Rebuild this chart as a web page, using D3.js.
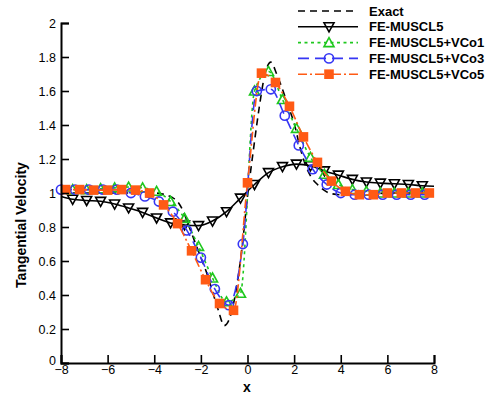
<!DOCTYPE html>
<html>
<head>
<meta charset="utf-8">
<script src="https://cdn.jsdelivr.net/npm/d3@7"></script>
<style>
  html, body { margin: 0; padding: 0; background: #fff; }
  svg { display: block; font-family: "Liberation Sans", Arial, Helvetica, sans-serif; }
</style>
</head>
<body>
<svg id="chart" width="490" height="398"></svg>
<script>
// Axis ticks
const xTicks = [-8, -6, -4, -2, 0, 2, 4, 6, 8];
const yTicks = [0, 0.2, 0.4, 0.6, 0.8, 1, 1.2, 1.4, 1.6, 1.8, 2];

// Exact solution
const exactX = [-8, -7, -6, -5, -4.5, -4, -3.5, -3.25, -3, -2.75, -2.5, -2.25, -2, -1.75, -1.5, -1.25, -1,
  -0.75, -0.5, -0.25, 0, 0.25, 0.5, 0.75, 1, 1.25, 1.5, 1.75, 2, 2.25, 2.5, 2.75, 3, 3.25, 3.5, 4, 5, 6, 7, 8];
const exactY = [1.0, 1.0, 1.0, 1.0, 1.0, 1.0, 0.99, 0.975, 0.95, 0.89, 0.80, 0.71, 0.62, 0.53, 0.42, 0.31, 0.22,
  0.27, 0.42, 0.66, 0.98, 1.25, 1.50, 1.70, 1.77, 1.70, 1.61, 1.51, 1.41, 1.27, 1.16, 1.09, 1.05, 1.02, 1.0, 0.99, 0.99, 1.0, 1.0, 1.0];

// FE-MUSCL5
const muscl5X = [-8, -7.5, -6.9, -6.3, -5.7, -5.1, -4.5, -3.9, -3.3, -2.7, -2.1, -1.5, -0.9, -0.3,
  0.3, 0.9, 1.5, 2.1, 2.7, 3.3, 3.9, 4.5, 5.1, 5.7, 6.3, 6.9, 7.5, 8];
const muscl5Y = [0.98, 0.963, 0.956, 0.951, 0.935, 0.912, 0.886, 0.853, 0.824, 0.812, 0.808, 0.835, 0.89, 0.97,
  1.05, 1.12, 1.155, 1.17, 1.16, 1.13, 1.105, 1.08, 1.065, 1.058, 1.054, 1.05, 1.043, 1.04];

// FE-MUSCL5+VCo1
const vco1X = [-8, -7.5, -6.9, -6.3, -5.7, -5.1, -4.5, -3.9, -3.3, -2.7, -2.1, -1.5, -0.9, -0.3,
  0.3, 0.9, 1.5, 2.1, 2.7, 3.3, 3.9, 4.5, 5.1, 5.7, 6.3, 6.9, 7.5, 8];
const vco1Y = [1.02, 1.02, 1.02, 1.025, 1.03, 1.035, 1.03, 1.01, 0.95, 0.85, 0.686, 0.50, 0.36, 0.41,
  1.60, 1.715, 1.55, 1.38, 1.21, 1.11, 1.05, 1.02, 1.01, 1.0, 1.0, 1.0, 1.0, 1.0];

// FE-MUSCL5+VCo3
const vco3X = [-8, -7.4, -6.8, -6.2, -5.6, -5.0, -4.4, -3.8, -3.2, -2.6, -2.0, -1.4, -0.8, -0.2,
  0.4, 1.0, 1.6, 2.2, 2.8, 3.4, 4.0, 4.6, 5.2, 5.8, 6.4, 7.0, 7.6, 8];
const vco3Y = [1.02, 1.02, 1.02, 1.02, 1.02, 1.0, 0.98, 0.95, 0.89, 0.78, 0.62, 0.435, 0.34, 0.70,
  1.60, 1.61, 1.455, 1.28, 1.14, 1.05, 1.0, 0.99, 0.99, 0.99, 0.99, 0.99, 0.99, 0.99];

// FE-MUSCL5+VCo5
const vco5X = [-8, -7.8, -7.2, -6.6, -6.0, -5.4, -4.8, -4.2, -3.6, -3.0, -2.4, -1.8, -1.2, -0.6,
  0.0, 0.6, 1.2, 1.8, 2.4, 3.0, 3.6, 4.2, 4.8, 5.4, 6.0, 6.6, 7.2, 7.8, 8];
const vco5Y = [1.02, 1.02, 1.02, 1.017, 1.017, 1.02, 1.017, 1.0, 0.93, 0.82, 0.66, 0.49, 0.35, 0.31,
  1.06, 1.705, 1.65, 1.51, 1.33, 1.18, 1.07, 1.01, 0.99, 0.99, 1.0, 1.0, 1.0, 1.0, 1.0];

const series = [
  { name: "Exact", xs: exactX, ys: exactY, color: "#000", dash: "7,5", width: 1.6, marker: null },
  { name: "FE-MUSCL5", xs: muscl5X, ys: muscl5Y, color: "#000", dash: null, width: 1.6, marker: "triDown", markFirst: false },
  { name: "FE-MUSCL5+VCo1", xs: vco1X, ys: vco1Y, color: "#1ec81e", dash: "3,3.5", width: 1.6, marker: "triUp", markFirst: false },
  { name: "FE-MUSCL5+VCo3", xs: vco3X, ys: vco3Y, color: "#3636f4", dash: "11,6", width: 1.6, marker: "circle", markFirst: true },
  { name: "FE-MUSCL5+VCo5", xs: vco5X, ys: vco5Y, color: "#ff5a14", dash: "9,3,2,3", width: 1.6, marker: "square", markFirst: false }
];

const svg = d3.select("#chart");
const x = d3.scaleLinear().domain([-8, 8]).range([61, 434]);
const y = d3.scaleLinear().domain([0, 2]).range([363, 23]);

// Marker shapes
function drawMarker(g, type, cx, cy, color) {
  if (type === "triDown") {
    g.append("path").attr("d", `M${cx - 5},${cy - 4} L${cx + 5},${cy - 4} L${cx},${cy + 5} Z`)
      .attr("fill", "none").attr("stroke", color).attr("stroke-width", 1.6);
  } else if (type === "triUp") {
    g.append("path").attr("d", `M${cx - 5},${cy + 4} L${cx + 5},${cy + 4} L${cx},${cy - 5} Z`)
      .attr("fill", "none").attr("stroke", color).attr("stroke-width", 1.6);
  } else if (type === "circle") {
    g.append("circle").attr("cx", cx).attr("cy", cy).attr("r", 4.6)
      .attr("fill", "none").attr("stroke", color).attr("stroke-width", 1.6);
  } else if (type === "square") {
    g.append("rect").attr("x", cx - 4.8).attr("y", cy - 4.8).attr("width", 9.6).attr("height", 9.6)
      .attr("fill", color);
  }
}

const plot = svg.append("g");
const line = d3.line().x(d => x(d[0])).y(d => y(d[1])).curve(d3.curveMonotoneX);

series.forEach(s => {
  const pts = s.xs.map((v, i) => [v, s.ys[i]]);
  plot.append("path").datum(pts)
    .attr("d", line)
    .attr("fill", "none")
    .attr("stroke", s.color)
    .attr("stroke-width", s.width)
    .attr("stroke-dasharray", s.dash);
  if (s.marker) {
    const mg = plot.append("g");
    pts.forEach((p, i) => {
      const isEnd = (i === 0 && !s.markFirst) || i === pts.length - 1;
      if (!isEnd) drawMarker(mg, s.marker, x(p[0]), y(p[1]), s.color);
    });
  }
});

// Axes: left and bottom with inward ticks
const xAxis = svg.append("g").attr("transform", "translate(0,363)")
  .call(d3.axisBottom(x).tickValues(xTicks).tickSize(-8).tickPadding(4).tickFormat(d3.format("d")));
const yAxis = svg.append("g").attr("transform", "translate(61,0)")
  .call(d3.axisLeft(y).tickValues(yTicks).tickSize(-8).tickPadding(5).tickFormat(d => String(+d.toFixed(1))));
[xAxis, yAxis].forEach(a => {
  a.select(".domain").attr("stroke", "#000").attr("stroke-width", 2);
  a.selectAll(".tick line").attr("stroke", "#000").attr("stroke-width", 1.6);
  a.selectAll(".tick text").attr("fill", "#000").style("font-size", "12.5px")
    .style("font-family", '"Liberation Sans", Arial, sans-serif');
});
xAxis.selectAll(".tick text").attr("dy", "0.55em");
yAxis.selectAll(".tick text").filter(d => d === 0).attr("dy", "0.1em");

// Axis titles
svg.append("text").attr("x", 247).attr("y", 392).attr("text-anchor", "middle")
  .style("font-size", "14px").style("font-weight", "bold").text("x");
svg.append("text").attr("transform", "translate(26,225) rotate(-90)").attr("text-anchor", "middle")
  .style("font-size", "14px").style("font-weight", "bold").text("Tangential Velocity");

// Legend
const legend = svg.append("g");
series.forEach((s, i) => {
  const ly = 11 + i * 15.8;
  legend.append("line").attr("x1", 298).attr("x2", 358).attr("y1", ly).attr("y2", ly)
    .attr("stroke", s.color).attr("stroke-width", s.width).attr("stroke-dasharray", s.dash);
  if (s.marker) drawMarker(legend, s.marker, 329, ly, s.color);
  legend.append("text").attr("x", 369).attr("y", ly).attr("dy", "0.36em")
    .style("font-size", "13px").style("font-weight", "bold").text(s.name);
});
</script>
</body>
</html>
